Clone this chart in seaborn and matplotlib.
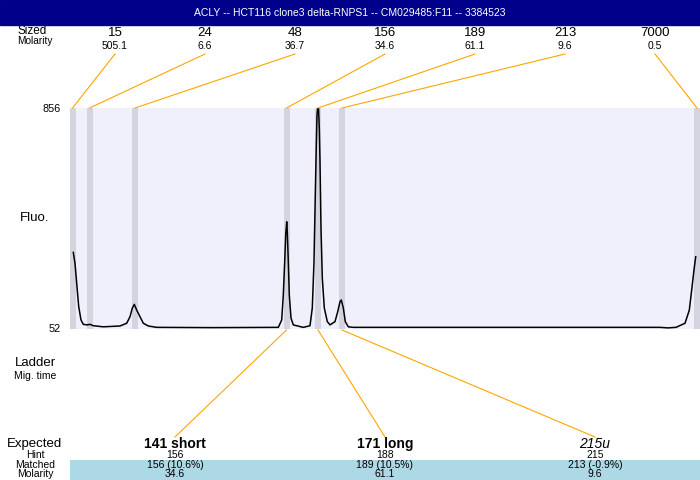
import matplotlib
matplotlib.use("Agg")
import matplotlib.pyplot as plt
import seaborn as sns

# ---------------- data ----------------
title = "ACLY -- HCT116 clone3 delta-RNPS1 -- CM029485:F11 -- 3384523"

ladder_sizes = ["15", "24", "48", "156", "189", "213", "7000"]
ladder_molarity = ["505.1", "6.6", "36.7", "34.6", "61.1", "9.6", "0.5"]
ladder_pos = [2.5, 19.5, 65.0, 216.5, 248.0, 272.0, 627.0]   # migration position

trace_x = [3.3, 5, 6.7, 8.7, 11, 13.3, 17.3, 20, 23.3, 33.3, 50, 56.7, 60, 62.3, 64.3,
           66.7, 70, 73.3, 78.3, 86.7, 143.3, 208.3, 211.7, 213.3, 214.7, 215.7, 216.7,
           217.3, 218.3, 219.3, 221, 223.3, 233.3, 240, 242.3, 244, 245.3, 246.3, 247,
           247.7, 248.5, 249.3, 250, 251, 252.3, 254.3, 257.3, 260, 265, 267.7, 270,
           271.3, 273.3, 275.3, 278.3, 283.3, 590, 598, 606, 615, 619.3, 621.7, 624, 625.7]
trace_y = [328, 288, 215, 130, 81, 65, 63, 65, 60, 56, 59, 69, 93, 124, 138,
           117, 93, 69, 59, 54, 53, 54, 81, 172, 294, 392, 440,
           404, 294, 172, 88, 63, 54, 60, 125, 294, 538, 721, 830,
           856, 856, 783, 660, 417, 234, 125, 75, 63, 75, 111, 148,
           154, 125, 75, 56, 54, 54, 52, 54, 69, 117, 191, 264, 312]

expected_labels = ["141 short", "171 long", "215u"]
expected_styles = ["bold", "bold", "italic"]
expected_hint = ["156", "188", "215"]
expected_matched = ["156 (10.6%)", "189 (10.5%)", "213 (-0.9%)"]
expected_molarity = ["34.6", "61.1", "9.6"]
expected_peak_idx = [3, 4, 5]   # ladder band each expected fragment points at

y_min, y_max = 52, 856
FONT = "Liberation Sans"

# ---------------- figure ----------------
W, H = 700, 480
fig = plt.figure(figsize=(7, 4.8), dpi=100)
plt.rcParams['font.family'] = [FONT, 'DejaVu Sans']

ax = fig.add_axes([70 / W, (H - 329) / H, 630 / W, 221 / H])
ax.set_facecolor("#F0F0FC")
for p in ladder_pos:
    ax.axvspan(p - 3, p + 3, color="#D4D4E0", lw=0, zorder=0)
sns.lineplot(x=trace_x, y=trace_y, ax=ax, color="black", lw=1.1, zorder=3)
ax.set_xlim(0, 630)
ax.set_ylim(48, y_max)
ax.set_xticks([])
ax.set_yticks([y_min, y_max])
ax.set_yticklabels([str(y_min), str(y_max)], fontsize=7.8)
ax.tick_params(axis="y", length=0, pad=7)
for s in ax.spines.values():
    s.set_visible(False)
ax.set_xlabel("")
ax.set_ylabel("")

# overlay in pixel coordinates
ov = fig.add_axes([0, 0, 1, 1], facecolor="none")
ov.set_xlim(0, W)
ov.set_ylim(H, 0)
ov.axis("off")

def data_to_px(x, y):
    dx, dy = ax.transData.transform((x, y))
    return dx, H - dy

# title bar
ov.add_patch(plt.Rectangle((0, 0), W, 25, color="#00008B", zorder=5))
ov.text(W / 2, 13, title, color="white", fontsize=7.5, ha="center", va="center", zorder=6)

# top-left header label (partly hidden by title bar)
ov.text(17, 31, "Sized", fontsize=8.5, ha="left", va="center", zorder=2)
ov.text(17, 41, "Molarity", fontsize=7.3, ha="left", va="center")

# ladder labels and connectors
label_x0, label_dx = 115, 90
for i, (sz, mol, pos) in enumerate(zip(ladder_sizes, ladder_molarity, ladder_pos)):
    lx = label_x0 + i * label_dx
    ov.text(lx, 33, sz, fontsize=9.5, ha="center", va="center")
    ov.text(lx, 46, mol, fontsize=7.5, ha="center", va="center")
    bx, by = data_to_px(pos, y_max)
    ov.plot([lx, bx], [54, by], color="orange", lw=0.8)

# left side labels
ov.text(35, 218, "Fluo.", fontsize=9.5, ha="center", va="center")
ov.text(35, 363, "Ladder", fontsize=9.5, ha="center", va="center")
ov.text(35, 376, "Mig. time", fontsize=7.5, ha="center", va="center")
ov.text(35, 444, "Expected", fontsize=9.5, ha="center", va="center")
ov.text(35, 455, "Hint", fontsize=7.5, ha="center", va="center")
ov.text(35, 465, "Matched", fontsize=7.5, ha="center", va="center")
ov.text(35, 474, "Molarity", fontsize=7.5, ha="center", va="center")

# matched band
ov.add_patch(plt.Rectangle((70, 460), 630, 20, color="#ADD8E6", lw=0, zorder=0))

# expected fragments
exp_x = [175, 385, 595]
for lab, st, hint, mat, mol, pi, ex in zip(expected_labels, expected_styles, expected_hint,
                                         expected_matched, expected_molarity,
                                         expected_peak_idx, exp_x):
    weight = "bold" if st == "bold" else "normal"
    style = "italic" if st == "italic" else "normal"
    ov.text(ex, 444, lab, fontsize=10, ha="center", va="center",
            fontweight=weight, fontstyle=style)
    ov.text(ex, 455, hint, fontsize=7.5, ha="center", va="center")
    ov.text(ex, 465, mat, fontsize=7.5, ha="center", va="center")
    ov.text(ex, 474, mol, fontsize=7.5, ha="center", va="center")
    bx, by = data_to_px(ladder_pos[pi], 48)
    ov.plot([bx, ex], [by + 1, 437], color="orange", lw=0.8)

fig.savefig("out.png", dpi=100)
